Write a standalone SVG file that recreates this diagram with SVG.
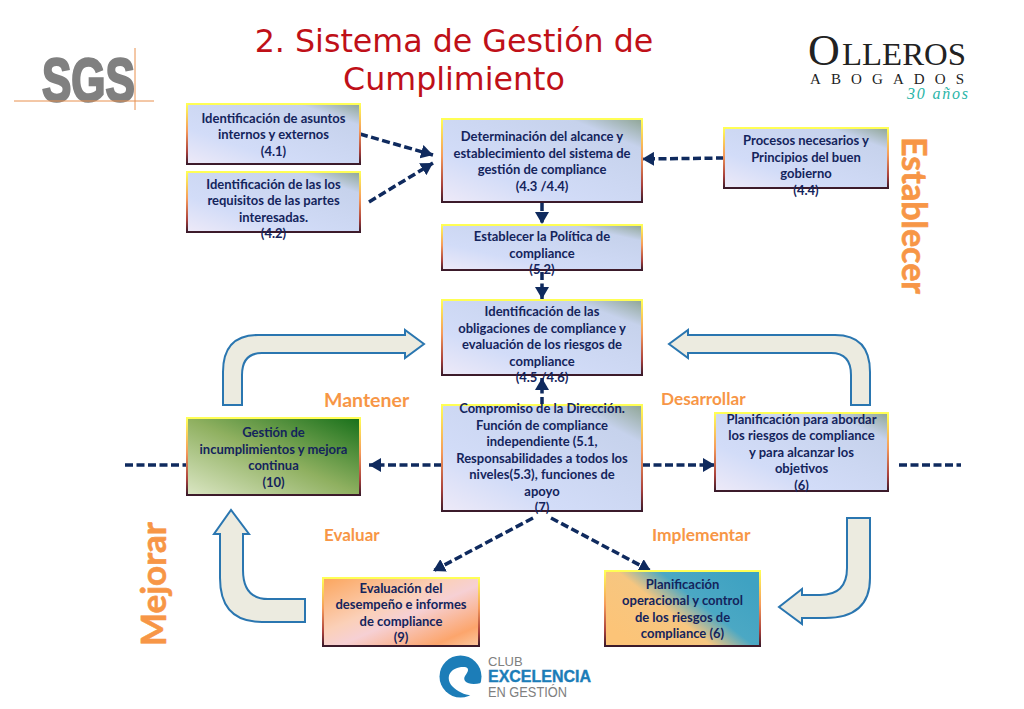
<svg xmlns="http://www.w3.org/2000/svg" width="1024" height="709" viewBox="0 0 1024 709">
<defs>
<linearGradient id="edge" x1="0" y1="0" x2="0" y2="1"><stop offset="0" stop-color="#ffff55"/><stop offset=".45" stop-color="#f59a5a"/><stop offset=".8" stop-color="#a8403c"/><stop offset="1" stop-color="#3a1a2a"/></linearGradient>
<linearGradient id="blue" x1="1" y1="0" x2="0" y2="1"><stop offset="0" stop-color="#8fa595"/><stop offset=".18" stop-color="#c6d2ec"/><stop offset=".7" stop-color="#d2dcf8"/><stop offset="1" stop-color="#eeeaf8"/></linearGradient>
<linearGradient id="green" x1="1" y1="0" x2="0" y2="1"><stop offset="0" stop-color="#17701a"/><stop offset=".5" stop-color="#8fb060"/><stop offset="1" stop-color="#dbe6c4"/></linearGradient>
<linearGradient id="peach" x1="0" y1="0" x2="1" y2="1"><stop offset="0" stop-color="#fba55c"/><stop offset=".4" stop-color="#fbd0b8"/><stop offset=".55" stop-color="#f6d0d4"/><stop offset=".85" stop-color="#fca56c"/><stop offset="1" stop-color="#fbc8a0"/></linearGradient>
<linearGradient id="teal" gradientUnits="userSpaceOnUse" x1="645" y1="655" x2="720" y2="560"><stop offset="0" stop-color="#fcc478"/><stop offset=".4" stop-color="#f6c680"/><stop offset=".62" stop-color="#4ba8c4"/><stop offset="1" stop-color="#3fa2c2"/></linearGradient>
<marker id="ah" markerUnits="userSpaceOnUse" markerWidth="14" markerHeight="14" refX="12" refY="7" orient="auto"><path d="M0 0L12 7L0 14Z" fill="#0f2a5e"/></marker>
</defs>
<style>
.box{stroke:url(#edge);stroke-width:2}
.t{font-family:Lato,"Liberation Sans",sans-serif;font-weight:700;font-size:13px;fill:#14245c;text-anchor:middle}
.o{font-family:Lato,"Liberation Sans",sans-serif;font-weight:700;fill:#f79646}
.c{fill:none;stroke:#0f2a5e;stroke-width:3.500;stroke-dasharray:8 3.500}
.a{fill:none;stroke:#0f2a5e;stroke-width:3.500;stroke-dasharray:8 3.500;marker-end:url(#ah)}
.big{fill:#ecebe0;stroke:#2a76b0;stroke-width:2}
.title{font-family:"DejaVu Sans",sans-serif;font-size:31.700px;fill:#bf1018;text-anchor:middle}
</style>
<rect width="1024" height="709" fill="#fff"/>
<g id="title"><text class="title" x="454" y="52">2. Sistema de Gestión de</text><text class="title" x="454" y="90">Cumplimiento</text></g>
<g id="logo-sgs"><text x="42" y="101" font-family="Liberation Sans Narrow,Liberation Sans,sans-serif" font-weight="700" font-size="62" fill="#808080" stroke="#808080" stroke-width="2.500" textLength="93" lengthAdjust="spacingAndGlyphs">SGS</text><path d="M14 101H154M135 48V110" stroke="#e8904f" stroke-width="1" fill="none"/></g>
<g id="logo-olleros" font-family="Liberation Serif,serif" fill="#222"><text x="808" y="65" font-size="44">O</text><text x="842" y="65" font-size="31" textLength="124" lengthAdjust="spacingAndGlyphs">LLEROS</text><text x="810" y="84" font-size="15" textLength="154">ABOGADOS</text><text x="907" y="99" font-size="16" font-style="italic" fill="#2ab5a8" textLength="61">30 años</text></g>
<g id="connectors">
<path class="a" d="M360 134L433 155"/><path class="a" d="M369 202L433 163"/><path class="a" d="M724 158L642 159"/>
<path class="a" d="M542 203V224"/><path class="a" d="M542 272V299"/><path class="a" d="M542 405V378"/>
<path class="a" d="M442 465H369"/><path class="a" d="M642 465H715"/>
<path class="c" d="M125 465H187"/><path class="c" d="M899 465H961"/>
<path class="a" d="M533 518L433 571"/><path class="a" d="M551 518L651 571"/>
</g>
<g id="flow-arrows">
<path class="big" d="M223 405V372Q223 335 258 335H405V330L424 344L405 358V353H262Q242 353 242 375V405Z"/>
<path class="big" d="M870 405V372Q870 335 835 335H688V330L669 344L688 358V353H831Q851 353 851 375V405Z"/>
<path class="big" d="M870 518V578Q870 618 825 618H802V624L779 607L802 589V595H820Q847 595 847 568V518Z"/>
<path class="big" d="M305 622H262Q220 622 220 578V534H214L231 510L249 534H243V570Q243 599 268 599H305Z"/>
</g>
<g id="n41"><rect class="box" x="187" y="104" width="173" height="60" fill="url(#blue)"/><text class="t"><tspan x="273.500" y="122.500">Identificación de asuntos</tspan><tspan x="273.500" y="139">internos y externos</tspan><tspan x="273.500" y="155.500">(4.1)</tspan></text></g>
<g id="n42"><rect class="box" x="187" y="172" width="173" height="60" fill="url(#blue)"/><text class="t"><tspan x="273.500" y="188.500">Identificación de las los</tspan><tspan x="273.500" y="205">requisitos de las partes</tspan><tspan x="273.500" y="221.500">interesadas.</tspan><tspan x="273.500" y="238">(4.2)</tspan></text></g>
<g id="n43"><rect class="box" x="442" y="119" width="200" height="83" fill="url(#blue)"/><text class="t"><tspan x="542" y="141">Determinación del alcance y</tspan><tspan x="542" y="157.500">establecimiento del sistema de</tspan><tspan x="542" y="174">gestión de compliance</tspan><tspan x="542" y="190.500">(4.3 /4.4)</tspan></text></g>
<g id="n52"><rect class="box" x="442" y="225" width="200" height="45" fill="url(#blue)"/><text class="t"><tspan x="542" y="241">Establecer la Política de</tspan><tspan x="542" y="257.500">compliance</tspan><tspan x="542" y="274">(5.2)</tspan></text></g>
<g id="n45"><rect class="box" x="442" y="300" width="200" height="75" fill="url(#blue)"/><text class="t"><tspan x="542" y="316">Identificación de las</tspan><tspan x="542" y="332.500">obligaciones de compliance y</tspan><tspan x="542" y="349">evaluación de los riesgos de</tspan><tspan x="542" y="365.500">compliance</tspan><tspan x="542" y="382">(4.5 /4.6)</tspan></text></g>
<g id="n7"><rect class="box" x="442" y="405" width="200" height="106" fill="url(#blue)"/><text class="t"><tspan x="542" y="413">Compromiso de la Dirección.</tspan><tspan x="542" y="429.500">Función de compliance</tspan><tspan x="542" y="446">independiente (5.1,</tspan><tspan x="542" y="462.500">Responsabilidades a todos los</tspan><tspan x="542" y="479">niveles(5.3), funciones de</tspan><tspan x="542" y="495.500">apoyo</tspan><tspan x="542" y="512">(7)</tspan></text></g>
<g id="n44"><rect class="box" x="724" y="128" width="164" height="60" fill="url(#blue)"/><text class="t"><tspan x="806" y="145">Procesos necesarios y</tspan><tspan x="806" y="161.500">Principios del buen</tspan><tspan x="806" y="178">gobierno</tspan><tspan x="806" y="194.500">(4.4)</tspan></text></g>
<g id="n10"><rect class="box" x="187" y="418" width="173" height="77" fill="url(#green)"/><text class="t"><tspan x="273.500" y="437">Gestión de</tspan><tspan x="273.500" y="453.500">incumplimientos y mejora</tspan><tspan x="273.500" y="470">continua</tspan><tspan x="273.500" y="486.500">(10)</tspan></text></g>
<g id="n6a"><rect class="box" x="715" y="413" width="173" height="78" fill="url(#blue)"/><text class="t"><tspan x="801.500" y="423.500">Planificación para abordar</tspan><tspan x="801.500" y="440">los riesgos de compliance</tspan><tspan x="801.500" y="456.500">y para alcanzar los</tspan><tspan x="801.500" y="473">objetivos</tspan><tspan x="801.500" y="489.500">(6)</tspan></text></g>
<g id="n9"><rect class="box" x="323" y="578" width="156" height="68" fill="url(#peach)"/><text class="t"><tspan x="401" y="592.500">Evaluación del</tspan><tspan x="401" y="609">desempeño e informes</tspan><tspan x="401" y="625.500">de compliance</tspan><tspan x="401" y="642">(9)</tspan></text></g>
<g id="n6b"><rect class="box" x="605" y="571" width="155" height="75" fill="url(#teal)"/><text class="t"><tspan x="682.500" y="588.500">Planificación</tspan><tspan x="682.500" y="605">operacional y control</tspan><tspan x="682.500" y="621.500">de los riesgos de</tspan><tspan x="682.500" y="638">compliance (6)</tspan></text></g>
<g id="labels">
<text class="o" x="324" y="407" font-size="19.500">Mantener</text>
<text class="o" x="661" y="405" font-size="17.200">Desarrollar</text>
<text class="o" x="324" y="541" font-size="17">Evaluar</text>
<text class="o" x="652" y="541" font-size="17.400">Implementar</text>
<text class="o" font-size="34" transform="translate(902 137) rotate(90)" stroke="#f79646" stroke-width=".6">Establecer</text>
<text class="o" font-size="35" transform="translate(166 646) rotate(-90)" stroke="#f79646" stroke-width=".6">Mejorar</text>
</g>
<g id="logo-club"><circle cx="460.500" cy="676.500" r="21" fill="#1c7db8"/><path d="M452 686C444 676 452 666 465 667C470 668 468 672 465 676C462 681 468 686 481 683L484 699L474 695C466 696 458 692 452 686Z" fill="#fff"/><text x="488" y="666" font-family="Liberation Sans,sans-serif" font-size="13" fill="#808080">CLUB</text><text x="488" y="682" font-family="Liberation Sans,sans-serif" font-weight="700" font-size="17" fill="#1c7db8" stroke="#1c7db8" stroke-width=".4" textLength="103" lengthAdjust="spacingAndGlyphs">EXCELENCIA</text><text x="488" y="697" font-family="Liberation Sans,sans-serif" font-size="14" fill="#808080" textLength="79" lengthAdjust="spacingAndGlyphs">EN GESTIÓN</text></g>
</svg>
